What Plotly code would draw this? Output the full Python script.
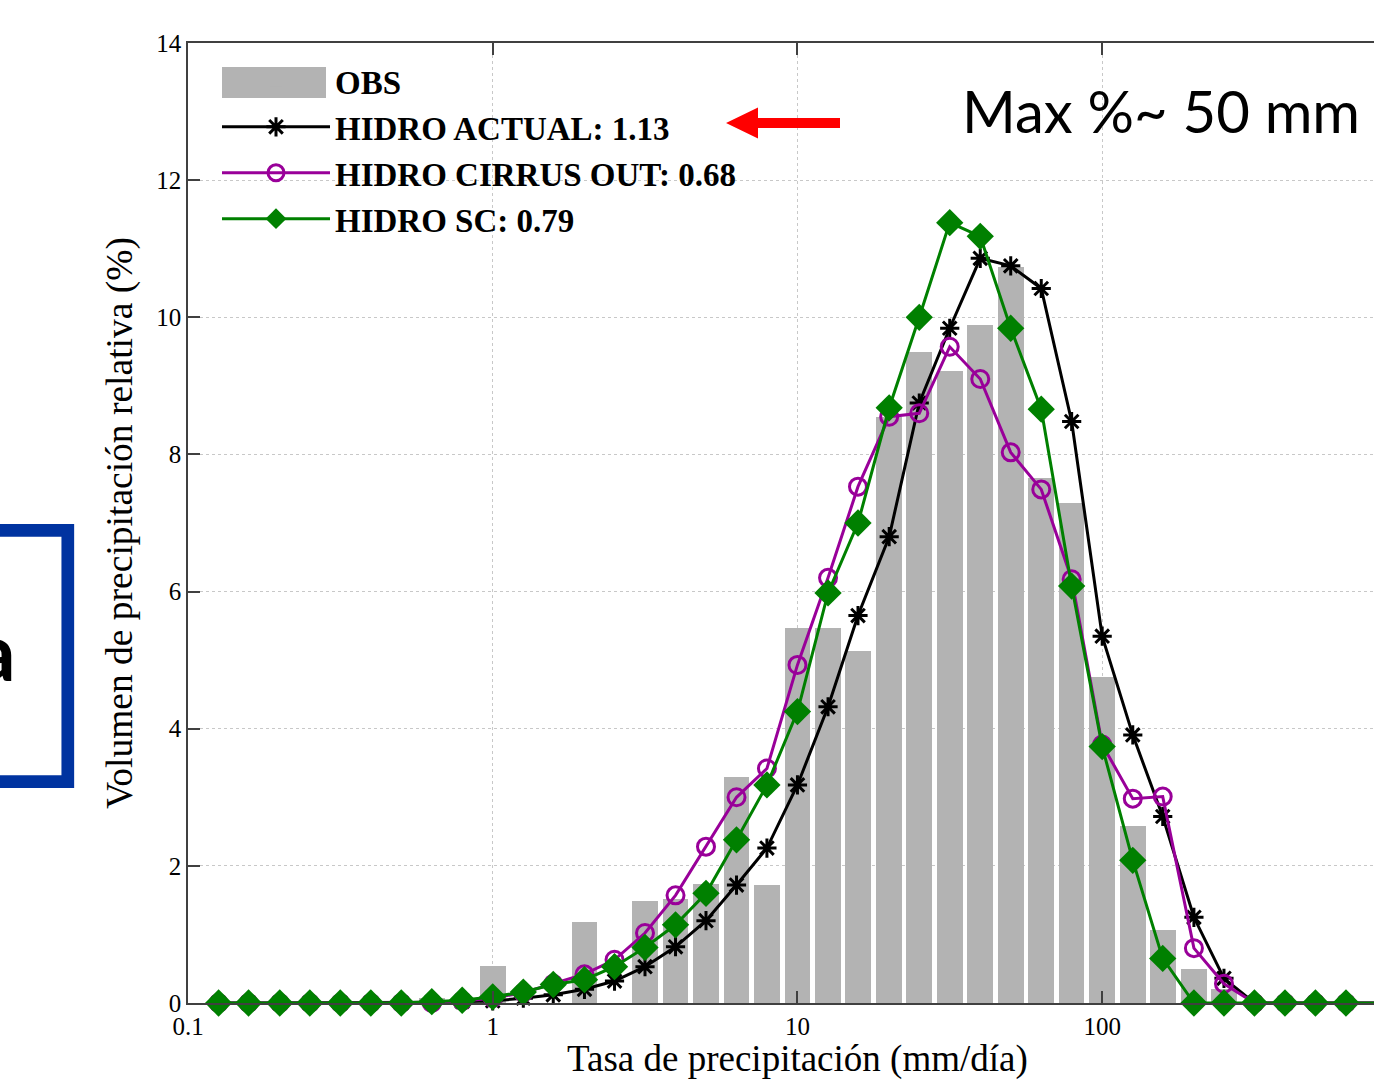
import plotly.graph_objects as go

# ---------------- data ----------------
rate = [0.126, 0.158, 0.200, 0.251, 0.316, 0.398, 0.501, 0.631, 0.794,
        1.00, 1.26, 1.58, 2.00, 2.51, 3.16, 3.98, 5.01, 6.31, 7.94,
        10.0, 12.6, 15.8, 20.0, 25.1, 31.6, 39.8, 50.1, 63.1, 79.4,
        100, 126, 158, 200, 251, 316, 398, 501, 631, 794]

obs = [0, 0, 0, 0, 0, 0, 0, 0.08, 0,
       0.54, 0, 0, 1.18, 0, 1.49, 1.52, 1.74, 3.29, 1.72,
       5.47, 5.47, 5.14, 8.55, 9.50, 9.21, 9.89, 10.74, 7.66, 7.29,
       4.76, 2.58, 1.07, 0.50, 0.20, 0, 0, 0, 0, 0]

hidro_actual = [0, 0, 0, 0, 0, 0, 0, 0.01, 0.02,
                0.03, 0.07, 0.12, 0.20, 0.32, 0.53, 0.82, 1.20, 1.72, 2.26,
                3.18, 4.32, 5.65, 6.80, 8.75, 9.84, 10.86, 10.75, 10.42, 8.48,
                5.35, 3.91, 2.72, 1.25, 0.36, 0, 0, 0, 0, 0]

hidro_cirrus = [0, 0, 0, 0, 0, 0, 0, 0, 0.03,
                0.07, 0.15, 0.28, 0.42, 0.63, 1.02, 1.57, 2.28, 3.00, 3.42,
                4.93, 6.20, 7.53, 8.55, 8.60, 9.57, 9.10, 8.03, 7.49, 6.18,
                3.77, 2.98, 3.01, 0.80, 0.28, 0, 0, 0, 0, 0]

hidro_sc = [0, 0, 0, 0, 0, 0, 0, 0.02, 0.04,
            0.09, 0.16, 0.27, 0.34, 0.53, 0.81, 1.14, 1.60, 2.38, 3.18,
            4.25, 5.98, 7.00, 8.68, 10.00, 11.38, 11.18, 9.84, 8.66, 6.08,
            3.74, 2.08, 0.65, 0, 0, 0, 0, 0, 0, 0]

names = ["OBS", "HIDRO ACTUAL: 1.13", "HIDRO CIRRUS OUT: 0.68", "HIDRO SC: 0.79"]
x_ticks = [0.1, 1, 10, 100]
x_ticktext = ["0.1", "1", "10", "100"]
y_ticks = [0, 2, 4, 6, 8, 10, 12, 14]

# ---------------- layout helpers ----------------
W, H = 1374, 1080
PL, PR, PT, PB = 188, 1374, 43, 1003


def px(x):
    return (x - PL) / (PR - PL)


def py(y):
    return (PB - y) / (PB - PT)


SERIF = "Liberation Serif, Times New Roman, serif"
SANS = "Lato, Open Sans, sans-serif"
LW = 3

# bars: symmetric in log space (half width 0.042 decade)
hw = 10 ** 0.042
bar_offset = [r / hw - r for r in rate]
bar_width = [r * hw - r / hw for r in rate]

fig = go.Figure()
fig.add_trace(go.Bar(
    x=rate, y=obs, name=names[0],
    offset=bar_offset, width=bar_width,
    marker=dict(color="#b3b3b3", line=dict(width=0)),
))
fig.add_trace(go.Scatter(
    x=rate, y=hidro_actual, name=names[1], mode="lines+markers",
    line=dict(color="black", width=LW),
    marker=dict(symbol="asterisk-open", size=16, color="black",
                line=dict(color="black", width=3)),
    cliponaxis=False,
))
fig.add_trace(go.Scatter(
    x=rate, y=hidro_cirrus, name=names[2], mode="lines+markers",
    line=dict(color="#990099", width=LW),
    marker=dict(symbol="circle-open", size=17, color="#990099",
                line=dict(color="#990099", width=3)),
    cliponaxis=False,
))
fig.add_trace(go.Scatter(
    x=rate, y=hidro_sc, name=names[3], mode="lines+markers",
    line=dict(color="#008000", width=LW),
    marker=dict(symbol="diamond", size=21, color="#008000",
                line=dict(width=0)),
    cliponaxis=False,
))

# arrow (slide decoration)
arrow_pts = [(726, 123), (758, 107.5), (758, 118), (840, 118),
             (840, 128), (758, 128), (758, 138.5)]
arrow_path = "M " + " L ".join(f"{px(a):.5f},{py(b):.5f}" for a, b in arrow_pts) + " Z"

shapes = [
    dict(type="path", xref="paper", yref="paper", path=arrow_path,
         fillcolor="#ff0000", line=dict(width=0)),
    dict(type="rect", xref="paper", yref="paper",
         x0=px(-30), x1=px(67.8), y0=py(781.7), y1=py(530.3),
         line=dict(color="#0033a0", width=12.7)),
    # wide legend patch for OBS (matches the bar legend swatch)
    dict(type="rect", xref="paper", yref="paper",
         x0=px(222), x1=px(326), y0=py(98), y1=py(67),
         fillcolor="#b3b3b3", line=dict(width=0)),
]

annotations = [
    dict(text="Max %~ 50 mm", xref="paper", yref="paper",
         x=px(960), y=py(111), xanchor="left", yanchor="middle",
         showarrow=False, font=dict(family=SANS, size=58, color="black")),
    dict(text="<b>a</b>", xref="paper", yref="paper",
         x=px(18), y=py(650), xanchor="right", yanchor="middle",
         showarrow=False, font=dict(family=SANS, size=80, color="black")),
    dict(text="Tasa de precipitación (mm/día)", xref="paper", yref="paper",
         x=px(797), y=py(1081), xanchor="center", yanchor="bottom",
         borderpad=0,
         showarrow=False, font=dict(family=SERIF, size=37, color="black")),
]

fig.update_layout(
    width=W, height=H,
    margin=dict(l=PL, r=W - PR, t=PT, b=H - PB, pad=0),
    paper_bgcolor="white", plot_bgcolor="white",
    bargap=0,
    showlegend=True,
    legend=dict(x=px(217), y=py(53), xanchor="left", yanchor="top",
                bgcolor="rgba(0,0,0,0)", borderwidth=0,
                font=dict(family=SERIF, size=33, color="black", weight="bold"),
                itemwidth=108, tracegroupgap=0),
    shapes=shapes,
    annotations=annotations,
    xaxis=dict(
        type="log", range=[-1, 2.892],
        tickvals=x_ticks, ticktext=x_ticktext,
        ticks="inside", ticklen=12, tickwidth=1.5, tickcolor="#404040",
        showline=True, linecolor="#404040", linewidth=1.5, mirror="ticks",
        showgrid=True, gridcolor="#c8c8c8", griddash="dot", gridwidth=1,
        zeroline=False,
        tickfont=dict(family=SERIF, size=25, color="black"),
    ),
    yaxis=dict(
        range=[0, 14], tickvals=y_ticks,
        ticks="inside", ticklen=12, tickwidth=1.5, tickcolor="#404040",
        showline=True, linecolor="#404040", linewidth=1.5, mirror=False,
        showgrid=True, gridcolor="#c8c8c8", griddash="dot", gridwidth=1,
        zeroline=False,
        tickfont=dict(family=SERIF, size=25, color="black"),
        title=dict(text="Volumen de precipitación relativa (%)",
                   font=dict(family=SERIF, size=37.5, color="black"),
                   standoff=12),
    ),
)

fig.write_html("out.html")
